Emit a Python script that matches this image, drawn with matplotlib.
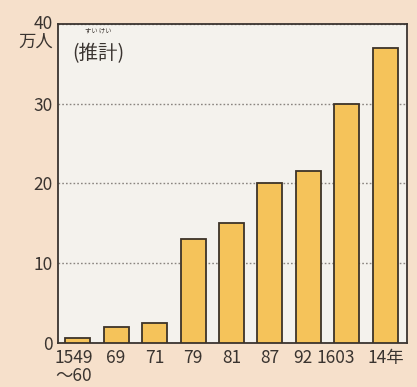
import matplotlib.pyplot as plt
import matplotlib.transforms as mtransforms

plt.rcParams['font.family'] = ['Noto Sans CJK JP', 'DejaVu Sans']

# data
years = ['1549\n〜60', '69', '71', '79', '81', '87', '92', '1603', '14年']
people = [0.6, 2.0, 2.5, 13.0, 15.0, 20.0, 21.5, 30.0, 36.9]
yticks = [0, 10, 20, 30, 40]

ink = '#3a3430'
fig = plt.figure(figsize=(4.17, 3.87), dpi=100, facecolor='#f6e0cb')
ax = fig.add_axes([0.140, 0.1137, 0.835, 0.825])
ax.set_facecolor('#f4f2ed')

x = range(len(years))
ax.bar(x, people, width=0.65, color='#f5c35a', edgecolor='#3d3328', linewidth=1.3, zorder=3)

ax.set_xlim(-0.5, 8.55)
ax.set_ylim(0, 40)
ax.set_yticks(yticks)
ax.set_yticklabels([str(v) for v in yticks], fontsize=12.5, color=ink)
ax.set_xticks(list(x))
ax.set_xticklabels(years, fontsize=12.5, color=ink, linespacing=1.0)
ax.tick_params(length=0, pad=4)
ax.yaxis.grid(True, linestyle=(0, (1.2, 1.5)), color='#8a8580', linewidth=1.0, zorder=1)
for s in ax.spines.values():
    s.set_color(ink)
    s.set_linewidth(1.3)

# crowded labels are nudged left in the original
shifts = {0: -4, 6: -6, 7: -11}
for i, lab in enumerate(ax.get_xticklabels()):
    if i in shifts:
        lab.set_transform(lab.get_transform() + mtransforms.ScaledTranslation(shifts[i] / 100, 0, fig.dpi_scale_trans))

# "40" sits a touch above the top spine in the original
lab40 = ax.get_yticklabels()[-1]
lab40.set_transform(lab40.get_transform() + mtransforms.ScaledTranslation(0, 0.02, fig.dpi_scale_trans))

fig.text(0.127, 0.868, '万人', ha='right', va='bottom', fontsize=12.5, color=ink)
ax.text(0.04, 0.94, '(推計)', transform=ax.transAxes, ha='left', va='top', fontsize=14, color=ink)
ax.text(0.077, 0.99, 'すい けい', transform=ax.transAxes, ha='left', va='top', fontsize=4.5, color=ink)

plt.savefig('out.png', dpi=100, facecolor=fig.get_facecolor())
